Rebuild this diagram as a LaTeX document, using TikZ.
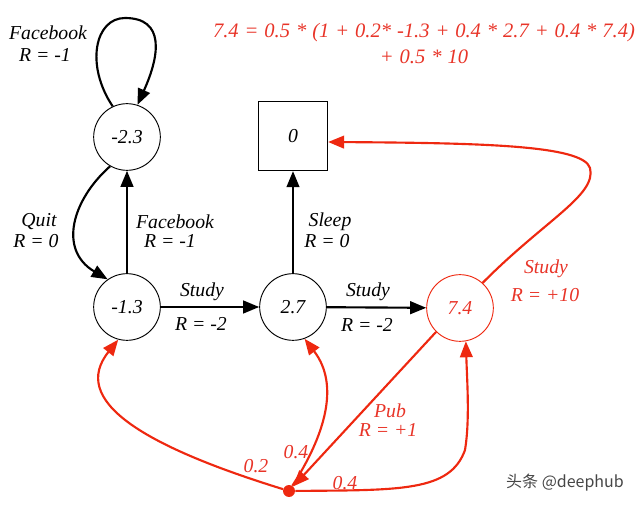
\documentclass[tikz,border=0pt]{standalone}
\usepackage{fontspec}
\setmainfont{Liberation Serif}
\newfontfamily\cjkfont{Noto Sans CJK SC}
\usetikzlibrary{arrows.meta}
\definecolor{myred}{RGB}{238,40,16}
\definecolor{txtred}{RGB}{232,52,40}
\definecolor{wmgray}{RGB}{70,70,70}
\begin{document}
\begin{tikzpicture}[x=0.75pt,y=-0.75pt,
  txt/.style={font=\fontsize{14.8}{17}\selectfont\itshape,inner sep=0pt},
  state/.style={circle,draw,line width=0.7pt,minimum size=50pt,inner sep=0pt,txt},
  term/.style={rectangle,draw,line width=0.7pt,minimum size=52pt,inner sep=0pt,txt},
  edge/.style={line width=1.6pt,-{Triangle[length=12pt,width=9.5pt]}},
  rededge/.style={edge,draw=myred},
  redtxt/.style={txt,text=txtred},
  formula/.style={inner sep=0pt,text=txtred,font=\fontsize{15.4}{18}\selectfont\itshape}]
\useasboundingbox (0,0) rectangle (640,506);

% states
\node[state] (a) at (127,137) {-2.3};
\node[state] (b) at (127,307) {-1.3};
\node[state] (c) at (293,307) {2.7};
\node[state,draw=myred,text=txtred] (d) at (460,308) {7.4};
\node[term] (s) at (293,136) {0};
\node[circle,fill=myred,minimum size=9pt,inner sep=0pt] (p) at (289,491) {};

% black edges
\draw[edge] (a.115) .. controls (85,65) and (95,18) .. (125,18) .. controls (165,18) and (160,55) .. (a.72);
\draw[edge] (a.240) .. controls (72,200) and (58,250) .. (b.125);
\draw[edge] (b) -- (a);
\draw[edge] (b) -- (c);
\draw[edge] (c) -- (s);
\draw[edge] (c) -- (d);

% red edges
\draw[rededge] (d.48) .. controls (545,220) and (597,195) .. (590,168) .. controls (583,145) and (480,143) .. ([yshift=-4.5pt]s.east);
\draw[rededge] (d.225) -- (p);
\draw[rededge] (p) .. controls (140,445) and (70,400) .. (b.255);
\draw[rededge] (p) .. controls (325,435) and (340,385) .. (c.290);
\draw[rededge] (p) .. controls (400,490) and (450,492) .. (465,450) .. controls (470,420) and (467,380) .. (d.280);

% labels
\node[txt] (l1) at (48,33) {Facebook};
\node[txt] (l2) at (45,55) {R = -1};
\node[txt] (l3) at (39,222) {Quit};
\node[txt] (l4) at (36,241) {R = 0};
\node[txt] (l5) at (175,222) {Facebook};
\node[txt] (l6) at (170,241) {R = -1};
\node[txt] (l7) at (202,292) {Study};
\node[txt] (l8) at (201,324) {R = -2};
\node[txt] (l9) at (330,222) {Sleep};
\node[txt] (l10) at (327,241) {R = 0};
\node[txt] (l11) at (368,292) {Study};
\node[txt] (l12) at (367,325) {R = -2};
\node[redtxt] (l13) at (546,269) {Study};
\node[redtxt] (l14) at (545,295) {R = +10};
\node[redtxt] (l15) at (390,411) {Pub};
\node[redtxt] (l16) at (388,430) {R = +1};
\node[redtxt] (l17) at (296,452) {0.4};
\node[redtxt] (l18) at (345,483) {0.4};
\node[redtxt] (l19) at (256,466) {0.2};
\node[formula] (f1) at (424,33) {\spaceskip=0.29em 7.4 = 0.5 * (1 + 0.2* -1.3 + 0.4 * 2.7 + 0.4 * 7.4)};
\node[formula] (f2) at (424,57) {\spaceskip=0.29em + 0.5 * 10};
\node[font=\cjkfont\fontsize{12}{14}\selectfont,text=wmgray,inner sep=0pt] (wm) at (565,483) {头条 @deephub};
\end{tikzpicture}
\end{document}
